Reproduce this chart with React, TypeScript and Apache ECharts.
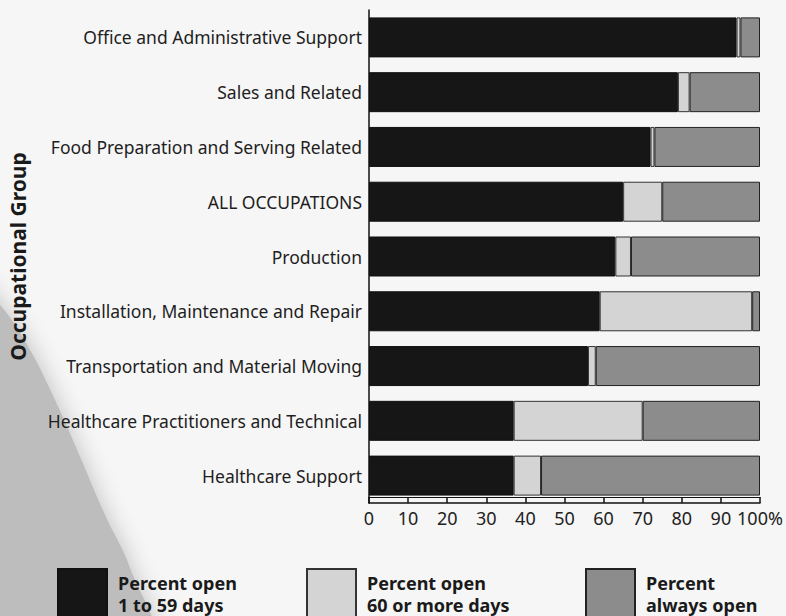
import React, { useEffect, useRef } from "react";
import * as echarts from "echarts";

const categories = [
  "Office and Administrative Support",
  "Sales and Related",
  "Food Preparation and Serving Related",
  "ALL OCCUPATIONS",
  "Production",
  "Installation, Maintenance and Repair",
  "Transportation and Material Moving",
  "Healthcare Practitioners and Technical",
  "Healthcare Support",
];

const open1to59 = [94, 79, 72, 65, 63, 59, 56, 37, 37];
const open60plus = [1, 3, 1, 10, 4, 39, 2, 33, 7];
const alwaysOpen = [5, 18, 27, 25, 33, 2, 42, 30, 56];

const seriesNames = [
  "Percent open\n1 to 59 days",
  "Percent open\n60 or more days",
  "Percent\nalways open",
];

const xTicks = [0, 10, 20, 30, 40, 50, 60, 70, 80, 90, 100];

const FONT = "Noto Sans";

export default function App() {
  const ref = useRef<HTMLDivElement>(null);

  useEffect(() => {
    if (!ref.current) return;
    const chart = echarts.init(ref.current, null, { renderer: "svg" });
    const legendText = {
      fontFamily: FONT,
      fontWeight: "bold" as const,
      fontSize: 18,
      lineHeight: 22,
      color: "#1a1a1a",
    };
    const mkLegend = (name: string, left: number) => ({
      data: [name],
      left,
      top: 568,
      padding: 0,
      orient: "horizontal" as const,
      icon: "rect",
      itemWidth: 49,
      itemHeight: 50,
      itemGap: 0,
      textStyle: { ...legendText, padding: [0, 0, 0, 6] },
      selectedMode: false,
    });
    chart.setOption({
      animation: false,
      backgroundColor: "#f6f6f6",
      graphic: [
        {
          type: "polygon",
          z: -10,
          silent: true,
          shape: {
            smooth: 0.4,
            points: [
              [-40, 270],
              [0, 305],
              [30, 350],
              [55, 400],
              [78, 452],
              [105, 515],
              [130, 568],
              [148, 640],
              [-40, 640],
            ],
          },
          style: {
            fill: "#bdbdbd",
            shadowBlur: 24,
            shadowColor: "#bdbdbd",
          },
        },
      ],
      grid: { left: 369, right: 26, top: 10, bottom: 113, containLabel: false },
      legend: [
        mkLegend(seriesNames[0], 57),
        mkLegend(seriesNames[1], 306),
        mkLegend(seriesNames[2], 585),
      ],
      xAxis: [
        {
          type: "value",
          min: 0,
          max: 100,
          interval: 10,
          position: "bottom",
          axisLine: { show: true, lineStyle: { color: "#111", width: 1.5 } },
          axisTick: { show: true, inside: true, length: 6, lineStyle: { color: "#111", width: 1.5 } },
          splitLine: { show: false },
          axisLabel: {
            fontFamily: FONT,
            fontSize: 18,
            color: "#222",
            margin: 6,
            formatter: (v: number) => (v === 100 ? "100%" : String(v)),
            customValues: xTicks,
          },
        },
        {
          type: "value",
          min: 0,
          max: 100,
          interval: 10,
          position: "bottom",
          offset: -6,
          axisLine: { show: true, lineStyle: { color: "#111", width: 1 } },
          axisTick: { show: false },
          splitLine: { show: false },
          axisLabel: { show: false },
        },
      ],
      yAxis: {
        type: "category",
        data: categories,
        inverse: true,
        name: "Occupational Group",
        nameLocation: "middle",
        nameRotate: 90,
        nameGap: 341,
        nameTextStyle: {
          fontFamily: FONT,
          fontWeight: "bold",
          fontSize: 21,
          color: "#1a1a1a",
        },
        axisLine: { show: true, lineStyle: { color: "#111", width: 1.5 } },
        axisTick: { show: false },
        axisLabel: {
          fontFamily: FONT,
          fontSize: 17.5,
          color: "#1e1e1e",
          margin: 7,
        },
      },
      series: [
        {
          name: seriesNames[0],
          type: "bar",
          stack: "total",
          barCategoryGap: "27%",
          data: open1to59,
          itemStyle: { color: "#161616", borderColor: "#111", borderWidth: 1 },
        },
        {
          name: seriesNames[1],
          type: "bar",
          stack: "total",
          data: open60plus,
          itemStyle: { color: "#d4d4d4", borderColor: "#333", borderWidth: 1 },
        },
        {
          name: seriesNames[2],
          type: "bar",
          stack: "total",
          data: alwaysOpen,
          itemStyle: { color: "#8c8c8c", borderColor: "#222", borderWidth: 1 },
        },
      ],
    });
    return () => chart.dispose();
  }, []);

  return (
    <div
      ref={ref}
      style={{ position: "fixed", left: 0, top: 0, width: 786, height: 616 }}
    />
  );
}
